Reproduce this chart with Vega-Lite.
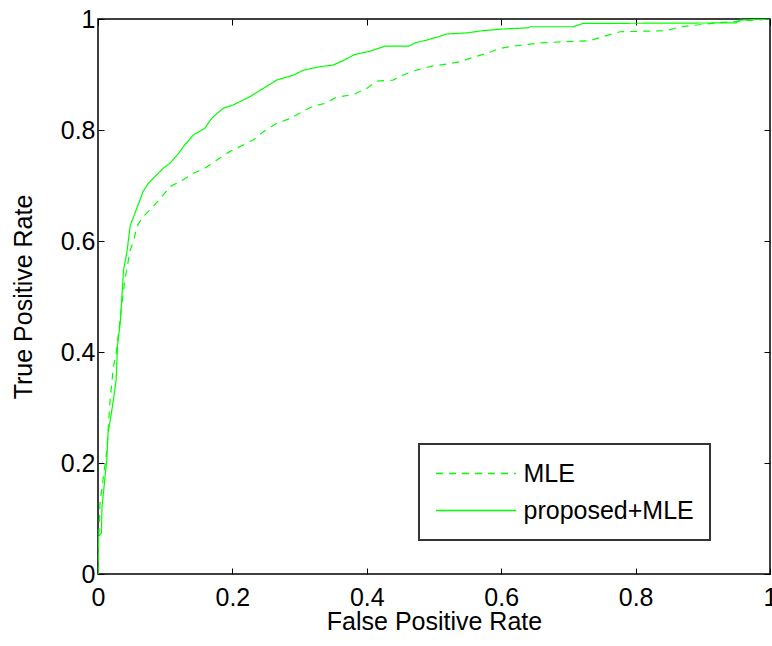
{
  "$schema": "https://vega.github.io/schema/vega-lite/v6.json",
  "width": 672,
  "height": 555,
  "autosize": {"type": "none"},
  "padding": {"left": 98, "top": 19, "right": 2, "bottom": 72},
  "background": "white",
  "config": {
    "font": "Liberation Sans",
    "view": {"stroke": "black", "strokeWidth": 1.5},
    "axis": {
      "grid": false,
      "domain": false,
      "offset": -6,
      "tickColor": "black",
      "tickWidth": 1,
      "tickSize": 6,
      "labelFlush": false,
      "labelColor": "black",
      "titleColor": "black",
      "labelFontSize": 25,
      "titleFontSize": 25,
      "titleFontWeight": "normal",
      "labelFont": "Liberation Sans",
      "titleFont": "Liberation Sans"
    },
    "legend": {
      "orient": "none",
      "legendX": 321,
      "legendY": 425,
      "symbolType": "M-3.2,0H3.2",
      "symbolSize": 625,
      "symbolOffset": 27.5,
      "symbolStrokeWidth": 1.5,
      "symbolStrokeColor": "#00ff00",
      "labelFontSize": 25,
      "labelFont": "Liberation Sans",
      "labelColor": "black",
      "padding": 16,
      "strokeColor": "#333333",
      "strokeWidth": 2,
      "fillColor": "white",
      "rowPadding": 10,
      "labelOffset": 34,
      "labelLimit": 0
    }
  },
  "datasets": {
    "roc": [
      {"series": "MLE", "k": 0, "fpr": 0, "tpr": 0},
      {"series": "MLE", "k": 1, "fpr": 0.001, "tpr": 0.06},
      {"series": "MLE", "k": 2, "fpr": 0.003, "tpr": 0.128},
      {"series": "MLE", "k": 3, "fpr": 0.008, "tpr": 0.175},
      {"series": "MLE", "k": 4, "fpr": 0.013, "tpr": 0.22},
      {"series": "MLE", "k": 5, "fpr": 0.018, "tpr": 0.314},
      {"series": "MLE", "k": 6, "fpr": 0.023, "tpr": 0.374},
      {"series": "MLE", "k": 7, "fpr": 0.027, "tpr": 0.397},
      {"series": "MLE", "k": 8, "fpr": 0.033, "tpr": 0.46},
      {"series": "MLE", "k": 9, "fpr": 0.04, "tpr": 0.53},
      {"series": "MLE", "k": 10, "fpr": 0.048, "tpr": 0.584},
      {"series": "MLE", "k": 11, "fpr": 0.053, "tpr": 0.6},
      {"series": "MLE", "k": 12, "fpr": 0.058, "tpr": 0.626},
      {"series": "MLE", "k": 13, "fpr": 0.065, "tpr": 0.641},
      {"series": "MLE", "k": 14, "fpr": 0.082, "tpr": 0.662},
      {"series": "MLE", "k": 15, "fpr": 0.095, "tpr": 0.68},
      {"series": "MLE", "k": 16, "fpr": 0.107, "tpr": 0.698},
      {"series": "MLE", "k": 17, "fpr": 0.122, "tpr": 0.707},
      {"series": "MLE", "k": 18, "fpr": 0.142, "tpr": 0.722},
      {"series": "MLE", "k": 19, "fpr": 0.159, "tpr": 0.731},
      {"series": "MLE", "k": 20, "fpr": 0.177, "tpr": 0.746},
      {"series": "MLE", "k": 21, "fpr": 0.196, "tpr": 0.761},
      {"series": "MLE", "k": 22, "fpr": 0.216, "tpr": 0.773},
      {"series": "MLE", "k": 23, "fpr": 0.231, "tpr": 0.782},
      {"series": "MLE", "k": 24, "fpr": 0.246, "tpr": 0.797},
      {"series": "MLE", "k": 25, "fpr": 0.266, "tpr": 0.812},
      {"series": "MLE", "k": 26, "fpr": 0.286, "tpr": 0.821},
      {"series": "MLE", "k": 27, "fpr": 0.306, "tpr": 0.834},
      {"series": "MLE", "k": 28, "fpr": 0.32, "tpr": 0.843},
      {"series": "MLE", "k": 29, "fpr": 0.338, "tpr": 0.848},
      {"series": "MLE", "k": 30, "fpr": 0.355, "tpr": 0.859},
      {"series": "MLE", "k": 31, "fpr": 0.38, "tpr": 0.864},
      {"series": "MLE", "k": 32, "fpr": 0.4, "tpr": 0.875},
      {"series": "MLE", "k": 33, "fpr": 0.415, "tpr": 0.888},
      {"series": "MLE", "k": 34, "fpr": 0.439, "tpr": 0.89},
      {"series": "MLE", "k": 35, "fpr": 0.454, "tpr": 0.899},
      {"series": "MLE", "k": 36, "fpr": 0.474, "tpr": 0.908},
      {"series": "MLE", "k": 37, "fpr": 0.497, "tpr": 0.915},
      {"series": "MLE", "k": 38, "fpr": 0.521, "tpr": 0.919},
      {"series": "MLE", "k": 39, "fpr": 0.539, "tpr": 0.923},
      {"series": "MLE", "k": 40, "fpr": 0.558, "tpr": 0.931},
      {"series": "MLE", "k": 41, "fpr": 0.578, "tpr": 0.938},
      {"series": "MLE", "k": 42, "fpr": 0.598, "tpr": 0.947},
      {"series": "MLE", "k": 43, "fpr": 0.618, "tpr": 0.951},
      {"series": "MLE", "k": 44, "fpr": 0.658, "tpr": 0.957},
      {"series": "MLE", "k": 45, "fpr": 0.732, "tpr": 0.961},
      {"series": "MLE", "k": 46, "fpr": 0.759, "tpr": 0.971},
      {"series": "MLE", "k": 47, "fpr": 0.777, "tpr": 0.977},
      {"series": "MLE", "k": 48, "fpr": 0.846, "tpr": 0.979},
      {"series": "MLE", "k": 49, "fpr": 0.866, "tpr": 0.986},
      {"series": "MLE", "k": 50, "fpr": 0.921, "tpr": 0.993},
      {"series": "MLE", "k": 51, "fpr": 0.955, "tpr": 0.996},
      {"series": "MLE", "k": 52, "fpr": 1, "tpr": 1},
      {"series": "proposed+MLE", "k": 0, "fpr": 0, "tpr": 0},
      {"series": "proposed+MLE", "k": 1, "fpr": 0, "tpr": 0.025},
      {"series": "proposed+MLE", "k": 2, "fpr": 0.0005, "tpr": 0.067},
      {"series": "proposed+MLE", "k": 3, "fpr": 0.005, "tpr": 0.074},
      {"series": "proposed+MLE", "k": 4, "fpr": 0.006, "tpr": 0.121},
      {"series": "proposed+MLE", "k": 5, "fpr": 0.01, "tpr": 0.169},
      {"series": "proposed+MLE", "k": 6, "fpr": 0.013, "tpr": 0.205},
      {"series": "proposed+MLE", "k": 7, "fpr": 0.015, "tpr": 0.254},
      {"series": "proposed+MLE", "k": 8, "fpr": 0.019, "tpr": 0.283},
      {"series": "proposed+MLE", "k": 9, "fpr": 0.023, "tpr": 0.314},
      {"series": "proposed+MLE", "k": 10, "fpr": 0.027, "tpr": 0.35},
      {"series": "proposed+MLE", "k": 11, "fpr": 0.029, "tpr": 0.41},
      {"series": "proposed+MLE", "k": 12, "fpr": 0.033, "tpr": 0.452},
      {"series": "proposed+MLE", "k": 13, "fpr": 0.035, "tpr": 0.488},
      {"series": "proposed+MLE", "k": 14, "fpr": 0.038, "tpr": 0.548},
      {"series": "proposed+MLE", "k": 15, "fpr": 0.043, "tpr": 0.58},
      {"series": "proposed+MLE", "k": 16, "fpr": 0.048, "tpr": 0.628},
      {"series": "proposed+MLE", "k": 17, "fpr": 0.055, "tpr": 0.65},
      {"series": "proposed+MLE", "k": 18, "fpr": 0.0625, "tpr": 0.674},
      {"series": "proposed+MLE", "k": 19, "fpr": 0.067, "tpr": 0.689},
      {"series": "proposed+MLE", "k": 20, "fpr": 0.075, "tpr": 0.704},
      {"series": "proposed+MLE", "k": 21, "fpr": 0.097, "tpr": 0.731},
      {"series": "proposed+MLE", "k": 22, "fpr": 0.107, "tpr": 0.74},
      {"series": "proposed+MLE", "k": 23, "fpr": 0.12, "tpr": 0.758},
      {"series": "proposed+MLE", "k": 24, "fpr": 0.129, "tpr": 0.773},
      {"series": "proposed+MLE", "k": 25, "fpr": 0.142, "tpr": 0.791},
      {"series": "proposed+MLE", "k": 26, "fpr": 0.159, "tpr": 0.803},
      {"series": "proposed+MLE", "k": 27, "fpr": 0.169, "tpr": 0.821},
      {"series": "proposed+MLE", "k": 28, "fpr": 0.186, "tpr": 0.839},
      {"series": "proposed+MLE", "k": 29, "fpr": 0.201, "tpr": 0.845},
      {"series": "proposed+MLE", "k": 30, "fpr": 0.226, "tpr": 0.86},
      {"series": "proposed+MLE", "k": 31, "fpr": 0.246, "tpr": 0.875},
      {"series": "proposed+MLE", "k": 32, "fpr": 0.266, "tpr": 0.89},
      {"series": "proposed+MLE", "k": 33, "fpr": 0.291, "tpr": 0.899},
      {"series": "proposed+MLE", "k": 34, "fpr": 0.306, "tpr": 0.908},
      {"series": "proposed+MLE", "k": 35, "fpr": 0.33, "tpr": 0.914},
      {"series": "proposed+MLE", "k": 36, "fpr": 0.35, "tpr": 0.917},
      {"series": "proposed+MLE", "k": 37, "fpr": 0.368, "tpr": 0.927},
      {"series": "proposed+MLE", "k": 38, "fpr": 0.382, "tpr": 0.936},
      {"series": "proposed+MLE", "k": 39, "fpr": 0.405, "tpr": 0.942},
      {"series": "proposed+MLE", "k": 40, "fpr": 0.427, "tpr": 0.951},
      {"series": "proposed+MLE", "k": 41, "fpr": 0.462, "tpr": 0.951},
      {"series": "proposed+MLE", "k": 42, "fpr": 0.472, "tpr": 0.957},
      {"series": "proposed+MLE", "k": 43, "fpr": 0.489, "tpr": 0.962},
      {"series": "proposed+MLE", "k": 44, "fpr": 0.509, "tpr": 0.969},
      {"series": "proposed+MLE", "k": 45, "fpr": 0.519, "tpr": 0.973},
      {"series": "proposed+MLE", "k": 46, "fpr": 0.549, "tpr": 0.975},
      {"series": "proposed+MLE", "k": 47, "fpr": 0.573, "tpr": 0.979},
      {"series": "proposed+MLE", "k": 48, "fpr": 0.603, "tpr": 0.982},
      {"series": "proposed+MLE", "k": 49, "fpr": 0.64, "tpr": 0.984},
      {"series": "proposed+MLE", "k": 50, "fpr": 0.643, "tpr": 0.986},
      {"series": "proposed+MLE", "k": 51, "fpr": 0.707, "tpr": 0.986},
      {"series": "proposed+MLE", "k": 52, "fpr": 0.722, "tpr": 0.992},
      {"series": "proposed+MLE", "k": 53, "fpr": 0.95, "tpr": 0.993},
      {"series": "proposed+MLE", "k": 54, "fpr": 0.955, "tpr": 0.998},
      {"series": "proposed+MLE", "k": 55, "fpr": 1, "tpr": 1}
    ]
  },
  "data": {"name": "roc"},
  "layer": [
    {
      "mark": {"type": "line", "strokeWidth": 1.2, "clip": true, "color": "#00ff00"},
      "encoding": {
        "x": {
          "field": "fpr",
          "type": "quantitative",
          "scale": {"domain": [0, 1], "nice": false},
          "axis": {
            "values": [0, 0.2, 0.4, 0.6, 0.8, 1],
            "format": "~g",
            "title": "False Positive Rate",
            "labelPadding": 11,
            "titlePadding": -1
          }
        },
        "y": {
          "field": "tpr",
          "type": "quantitative",
          "scale": {"domain": [0, 1], "nice": false},
          "axis": {
            "values": [0, 0.2, 0.4, 0.6, 0.8, 1],
            "format": "~g",
            "title": "True Positive Rate",
            "labelPadding": 3,
            "titlePadding": 24
          }
        },
        "strokeDash": {
          "field": "series",
          "type": "nominal",
          "scale": {"domain": ["MLE", "proposed+MLE"], "range": [[7, 6], [1, 0]]},
          "legend": {"title": null, "labelExpr": "datum.label + '\u00a0\u00a0\u00a0\u00a0\u00a0\u00a0'"}
        },
        "order": {"field": "k", "type": "quantitative"}
      }
    },
    {
      "mark": {"type": "line", "opacity": 0},
      "encoding": {
        "x": {
          "field": "fpr",
          "type": "quantitative",
          "scale": {"domain": [0, 1], "nice": false},
          "axis": {"orient": "top", "values": [0, 0.2, 0.4, 0.6, 0.8, 1], "labels": false, "title": null}
        },
        "y": {
          "field": "tpr",
          "type": "quantitative",
          "scale": {"domain": [0, 1], "nice": false},
          "axis": {"orient": "right", "values": [0, 0.2, 0.4, 0.6, 0.8, 1], "labels": false, "title": null}
        },
        "detail": {"field": "series"}
      }
    }
  ],
  "resolve": {"axis": {"x": "independent", "y": "independent"}}
}
